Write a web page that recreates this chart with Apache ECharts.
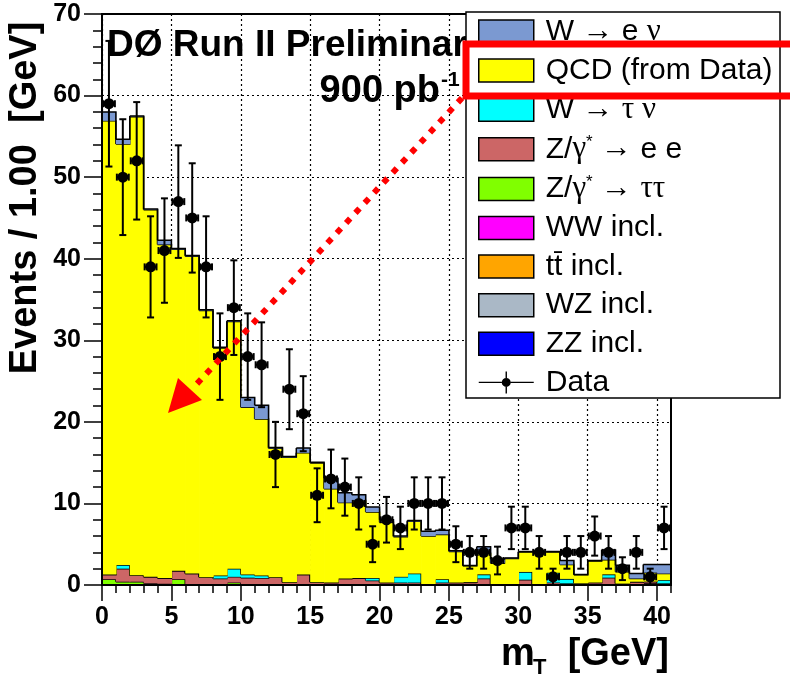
<!DOCTYPE html>
<html><head><meta charset="utf-8">
<script src="https://cdn.jsdelivr.net/npm/echarts@6/dist/echarts.min.js"></script>
<style>html,body{margin:0;padding:0;background:#fff}#c{width:790px;height:680px}</style>
</head><body><div id="c"></div>
<script>
// ---- binning and tick labels ----
const xMin = 0, xMax = 41;               // m_T range [GeV], 1 GeV bins
const xTickLabels = [0, 5, 10, 15, 20, 25, 30, 35, 40];
const yTickLabels = [0, 10, 20, 30, 40, 50, 60, 70];

// ---- observed data (events per bin) and errors ----
const dataCounts = [59, 50, 52, 39, 41, 47, 45, 39, 28, 34, 28, 27, 16, 24, 21, 11, 13, 12, 10, 5, 8,
                    7, 10, 10, 10, 5, 4, 4, 3, 7, 7, 4, 1, 4, 4, 6, 4, 2, 4, 1, 7];
const dataErrors = [7.7, 7.1, 7.2, 6.2, 6.4, 6.9, 6.7, 6.2, 5.3, 5.8, 5.3, 5.2, 4.0, 4.9, 4.6, 3.3, 3.6, 3.5, 3.2, 2.2, 2.8,
                    2.6, 3.2, 3.2, 3.2, 2.2, 2.0, 2.0, 1.7, 2.6, 2.6, 2.0, 1.0, 2.0, 2.0, 2.4, 2.0, 1.4, 2.0, 1.0, 2.6];

// ---- stacked backgrounds (events per bin) ----
const wenu = [1.1, 0.6, 0.1, 0.1, 0.5, 0.1, 0.1, 0.1, 0.1, 0.1, 1.2, 1.7, 0.1, 0.1, 0.6, 0.1, 1.3, 1.2, 0.7, 0.6, 0.3,
              0.1, 0.1, 0.6, 0.5, 0.1, 0.05, 0.8, 0.5, 0.05, 0.05, 0.05, 0.05, 0.5, 0.05, 0.05, 1.2, 0.8, 0.6, 1.0, 1.1];
const qcd = [55.6, 51.6, 56.2, 45.0, 40.9, 39.4, 38.9, 32.7, 27.9, 30.3, 20.5, 19.2, 15.8, 15.3, 14.9, 14.6, 11.5, 9.3, 9.5, 8.1, 7.4,
             4.9, 6.4, 5.9, 5.5, 3.8, 2.0, 2.6, 2.65, 3.2, 2.45, 4.05, 2.55, 1.75, 1.05, 2.65, 1.8, 1.45, 0.4, 1.1, 0.8];
const wtaunu = [0, 0.45, 0, 0, 0, 0, 0, 0, 0.35, 1.0, 0.4, 0.3, 0, 0, 0, 0, 0, 0, 0, 0.3, 0,
                0.7, 1.1, 0, 0.4, 0, 0, 0.5, 0, 0, 0.95, 0, 1.2, 0.55, 0, 0, 0.4, 0, 0, 0, 0.4];
const zee = [0.6, 1.6, 0.8, 0.8, 0.7, 1.05, 1.3, 0.85, 0.7, 0.7, 0.8, 0.8, 0.95, 0.35, 1.3, 0.35, 0.3, 0.8, 0.85, 0.55, 0.3,
             0.3, 0.3, 0, 0.3, 0.3, 0.2, 0.8, 0, 0, 0.65, 0, 0.3, 0.2, 0, 0.2, 0.9, 0, 0.4, 0.2, 0.2];
const ztautau = [0.7, 0.4, 0.4, 0.2, 0.15, 0.7, 0.1, 0.1, 0.1, 0.3, 0.1, 0.05, 0, 0, 0, 0, 0, 0, 0, 0, 0,
                 0, 0, 0, 0, 0, 0, 0, 0, 0, 0, 0, 0, 0, 0, 0, 0, 0, 0, 0, 0];
const ww = [0, 0, 0, 0, 0, 0, 0, 0, 0, 0, 0, 0, 0, 0, 0, 0, 0, 0, 0, 0, 0,
            0, 0, 0, 0, 0, 0, 0, 0, 0, 0, 0, 0, 0, 0, 0, 0, 0, 0, 0.2, 0];
const ttbar = [0, 0, 0, 0, 0, 0, 0, 0, 0, 0, 0, 0, 0, 0, 0, 0, 0, 0, 0, 0, 0,
               0, 0, 0, 0, 0, 0.05, 0, 0, 0, 0, 0, 0, 0, 0.1, 0.05, 0, 0.05, 0, 0, 0];
const wz = [0, 0, 0, 0, 0, 0, 0, 0, 0, 0, 0, 0, 0, 0, 0, 0, 0, 0, 0, 0, 0,
            0, 0, 0.1, 0, 0, 0.1, 0, 0.05, 0.05, 0, 0, 0, 0, 0.1, 0.05, 0, 0.1, 0, 0, 0];
const zz = [0, 0, 0, 0, 0, 0, 0, 0, 0, 0, 0, 0, 0, 0, 0, 0, 0, 0, 0, 0, 0,
            0, 0, 0, 0, 0, 0, 0, 0, 0, 0, 0, 0, 0, 0, 0, 0, 0.02, 0, 0.02, 0];

// stack order bottom -> top
const components = [
  {name: 'ZZ incl.', values: zz, color: '#0000ff'},
  {name: 'WZ incl.', values: wz, color: '#aab8c6'},
  {name: 'tt incl.', values: ttbar, color: '#ffa500'},
  {name: 'WW incl.', values: ww, color: '#ff00ff'},
  {name: 'Ztautau', values: ztautau, color: '#80ff00'},
  {name: 'Zee', values: zee, color: '#cc6666'},
  {name: 'Wtaunu', values: wtaunu, color: '#00ffff'},
  {name: 'QCD', values: qcd, color: '#ffff00'},
  {name: 'Wenu', values: wenu, color: '#7b99d1'}
];
const legendOrder = ['Wenu', 'QCD', 'Wtaunu', 'Zee', 'Ztautau', 'WW incl.', 'tt incl.', 'WZ incl.', 'ZZ incl.', 'Data'];
const legendText = {
  'Wenu': '{t|W }{g|→}{t| e }{g|ν}',
  'QCD': '{t|QCD (from Data)}',
  'Wtaunu': '{t|W }{g|→}{t| }{g|τ ν}',
  'Zee': '{t|Z/}{g|γ}{sup|*}{t| }{g|→}{t| e e}',
  'Ztautau': '{t|Z/}{g|γ}{sup|*}{t| }{g|→}{t| }{g|ττ}',
  'WW incl.': '{t|WW incl.}',
  'tt incl.': '{t|tt\u0304 incl.}',
  'WZ incl.': '{t|WZ incl.}',
  'ZZ incl.': '{t|ZZ incl.}',
  'Data': '{t|Data}'
};

const FONT = 'Liberation Sans';
const nBins = dataCounts.length;

// cumulative stacking (bottom -> top)
const cum = new Array(nBins).fill(0);
const series = components.map((c, k) => {
  const items = [];
  const base = cum.slice();
  for (let i = 0; i < nBins; i++) cum[i] += c.values[i];
  for (let i = 0; i < nBins; i++) {
    items.push([xMin + i, base[i], cum[i], i + 1 < nBins ? cum[i + 1] : 0]);
  }
  return {
    name: c.name,
    type: 'custom',
    color: c.color,
    data: items,
    z: 2 + k * 0.01,
    silent: true,
    renderItem: function (params, api) {
      const x0 = api.value(0), lo = api.value(1), hi = api.value(2), nx = api.value(3);
      const p0 = api.coord([x0, lo]);
      const p1 = api.coord([x0 + 1, hi]);
      const pn = api.coord([x0 + 1, nx]);
      const children = [];
      if (hi > lo) {
        children.push({type: 'rect', shape: {x: p0[0], y: p1[1], width: p1[0] - p0[0] + 0.7, height: p0[1] - p1[1]},
                       style: {fill: c.color}});
      }
      const pts = [[p0[0], p1[1]], [p1[0], p1[1]], [pn[0], pn[1]]];
      if (params.dataIndex === 0) pts.unshift([p0[0], api.coord([x0, 0])[1]]);
      children.push({type: 'polyline', shape: {points: pts},
                     style: {stroke: '#000', lineWidth: 1.5, fill: null}, z2: 5});
      return {type: 'group', children: children};
    }
  };
});

series.push({
  name: 'Data',
  type: 'custom',
  color: '#000',
  data: dataCounts.map((v, i) => [xMin + i + 0.5, v, dataErrors[i]]),
  z: 5,
  silent: true,
  renderItem: function (params, api) {
    const x = api.value(0), y = api.value(1), e = api.value(2);
    const c = api.coord([x, y]);
    const top = api.coord([x, y + e]);
    const bot = api.coord([x, Math.max(y - e, 0)]);
    const l = api.coord([x - 0.5, y]);
    const r = api.coord([x + 0.5, y]);
    const st = {stroke: '#000', lineWidth: 2};
    const cap = 3.5;
    return {type: 'group', children: [
      {type: 'line', shape: {x1: c[0], y1: top[1], x2: c[0], y2: bot[1]}, style: st},
      {type: 'line', shape: {x1: c[0] - cap, y1: top[1], x2: c[0] + cap, y2: top[1]}, style: st},
      {type: 'line', shape: {x1: c[0] - cap, y1: bot[1], x2: c[0] + cap, y2: bot[1]}, style: st},
      {type: 'line', shape: {x1: l[0] + 1, y1: c[1], x2: r[0] - 1, y2: c[1]}, style: st},
      {type: 'line', shape: {x1: l[0] + 1, y1: c[1] - cap, x2: l[0] + 1, y2: c[1] + cap}, style: st},
      {type: 'line', shape: {x1: r[0] - 1, y1: c[1] - cap, x2: r[0] - 1, y2: c[1] + cap}, style: st},
      {type: 'circle', shape: {cx: c[0], cy: c[1], r: 5.5}, style: {fill: '#000'}}
    ]};
  }
});

// hidden grid used only for the 1-GeV minor ticks on the x axis
series.push({type: 'line', xAxisIndex: 1, yAxisIndex: 1, data: [], silent: true});

const colorOf = {};
components.forEach(c => colorOf[c.name] = c.color);
const legendData = legendOrder.map(n => n === 'Data'
  ? {name: n, icon: 'path://M0,10.3H23V11.7H0Z M32,10.3H55V11.7H32Z M26.8,0H28.2V6.5H26.8Z M26.8,15.5H28.2V22H26.8Z M23,11a4.5,4.5 0 1,1 9,0a4.5,4.5 0 1,1 -9,0Z',
     itemStyle: {color: '#000', borderWidth: 0}}
  : {name: n, icon: 'rect', itemStyle: {color: colorOf[n], borderColor: '#000', borderWidth: 1.5}});

const gridBox = {left: 102, right: 119, top: 14, bottom: 95};
const axisLabelStyle = {color: '#000', fontFamily: FONT, fontWeight: 'bold', fontSize: 25};

const option = {
  animation: false,
  backgroundColor: '#fff',
  grid: [
    Object.assign({show: true, borderColor: '#000', borderWidth: 2, backgroundColor: 'transparent', z: 8}, gridBox),
    Object.assign({show: false}, gridBox)
  ],
  xAxis: [{
    type: 'value', min: xMin, max: xMax, interval: 5, gridIndex: 0,
    axisLine: {show: true, onZero: false, lineStyle: {color: '#000', width: 2}},
    axisTick: {show: true, length: 16, customValues: xTickLabels, lineStyle: {color: '#000', width: 1.5}},
    axisLabel: Object.assign({margin: 20, customValues: xTickLabels}, axisLabelStyle),
    splitLine: {show: true, lineStyle: {color: '#000', width: 1.2, type: [2, 3]}}
  }, {
    type: 'value', min: xMin, max: xMax, interval: 1, gridIndex: 1, position: 'bottom',
    axisLine: {show: false},
    axisTick: {show: true, length: 8, lineStyle: {color: '#000', width: 1.5}},
    axisLabel: {show: false},
    splitLine: {show: false}
  }],
  yAxis: [{
    type: 'value', min: yTickLabels[0], max: yTickLabels[yTickLabels.length - 1], interval: 10, gridIndex: 0,
    axisLine: {show: true, onZero: false, lineStyle: {color: '#000', width: 2}},
    axisTick: {show: true, length: 18, lineStyle: {color: '#000', width: 1.5}},
    minorTick: {show: true, splitNumber: 5, length: 9, lineStyle: {color: '#000', width: 1.5}},
    axisLabel: Object.assign({margin: 21}, axisLabelStyle),
    splitLine: {show: true, lineStyle: {color: '#000', width: 1.2, type: [2, 3]}}
  }, {
    type: 'value', min: 0, max: 70, gridIndex: 1, show: false
  }],
  legend: {
    orient: 'vertical', left: 478, top: 16, padding: 0,
    itemWidth: 55, itemHeight: 23, itemGap: 8.6,
    selectedMode: false, z: 11,
    data: legendData,
    formatter: n => legendText[n],
    textStyle: {
      color: '#000', fontFamily: FONT, fontSize: 30, lineHeight: 30, padding: [0, 0, 0, 7],
      rich: {
        t: {fontFamily: FONT, fontSize: 30, lineHeight: 30, color: '#000'},
        g: {fontFamily: 'Liberation Serif', fontSize: 31, lineHeight: 30, color: '#000'},
        sup: {fontFamily: FONT, fontSize: 17, lineHeight: 14, verticalAlign: 'top', color: '#000'}
      }
    }
  },
  graphic: [
    {type: 'text', z: 6, left: 107, top: 27,
     style: {text: 'DØ Run II Preliminary', font: 'bold 37px "Liberation Sans"', fill: '#000'}},
    {type: 'text', z: 6, x: 440, y: 92,
     style: {text: '900 pb', font: 'bold 38px "Liberation Sans"', fill: '#000', align: 'right', verticalAlign: 'middle'}},
    {type: 'text', z: 6, x: 441, y: 80,
     style: {text: '-1', font: 'bold 21px "Liberation Sans"', fill: '#000', align: 'left', verticalAlign: 'middle'}},
    {type: 'rect', z: 10, shape: {x: 466, y: 12, width: 314, height: 386},
     style: {fill: '#fff', stroke: '#000', lineWidth: 1.5}},
    {type: 'text', z: 6, x: 26, y: 198, rotation: Math.PI / 2,
     style: {text: 'Events / 1.00  [GeV]', font: 'bold 38px "Liberation Sans"', fill: '#000', align: 'center', verticalAlign: 'middle'}},
    {type: 'text', z: 6, x: 501, y: 655,
     style: {text: 'm', font: 'bold 38px "Liberation Sans"', fill: '#000', align: 'left', verticalAlign: 'middle'}},
    {type: 'text', z: 6, x: 533, y: 668,
     style: {text: 'T', font: 'bold 22px "Liberation Sans"', fill: '#000', align: 'left', verticalAlign: 'middle'}},
    {type: 'text', z: 6, x: 669, y: 655,
     style: {text: '[GeV]', font: 'bold 38px "Liberation Sans"', fill: '#000', align: 'right', verticalAlign: 'middle'}},
    {type: 'rect', z: 20, shape: {x: 466, y: 44, width: 400, height: 52},
     style: {fill: 'none', stroke: '#ff0000', lineWidth: 7}},
    {type: 'line', z: 20, shape: {x1: 462, y1: 98, x2: 193, y2: 388},
     style: {stroke: '#ff0000', lineWidth: 6, lineDash: [6, 7.7]}},
    {type: 'polygon', z: 20, shape: {points: [[168, 413], [178, 378], [202, 400]]},
     style: {fill: '#ff0000'}}
  ],
  series: series
};

const chart = echarts.init(document.getElementById('c'), null, {renderer: 'canvas'});
chart.setOption(option);
</script>
</body></html>
